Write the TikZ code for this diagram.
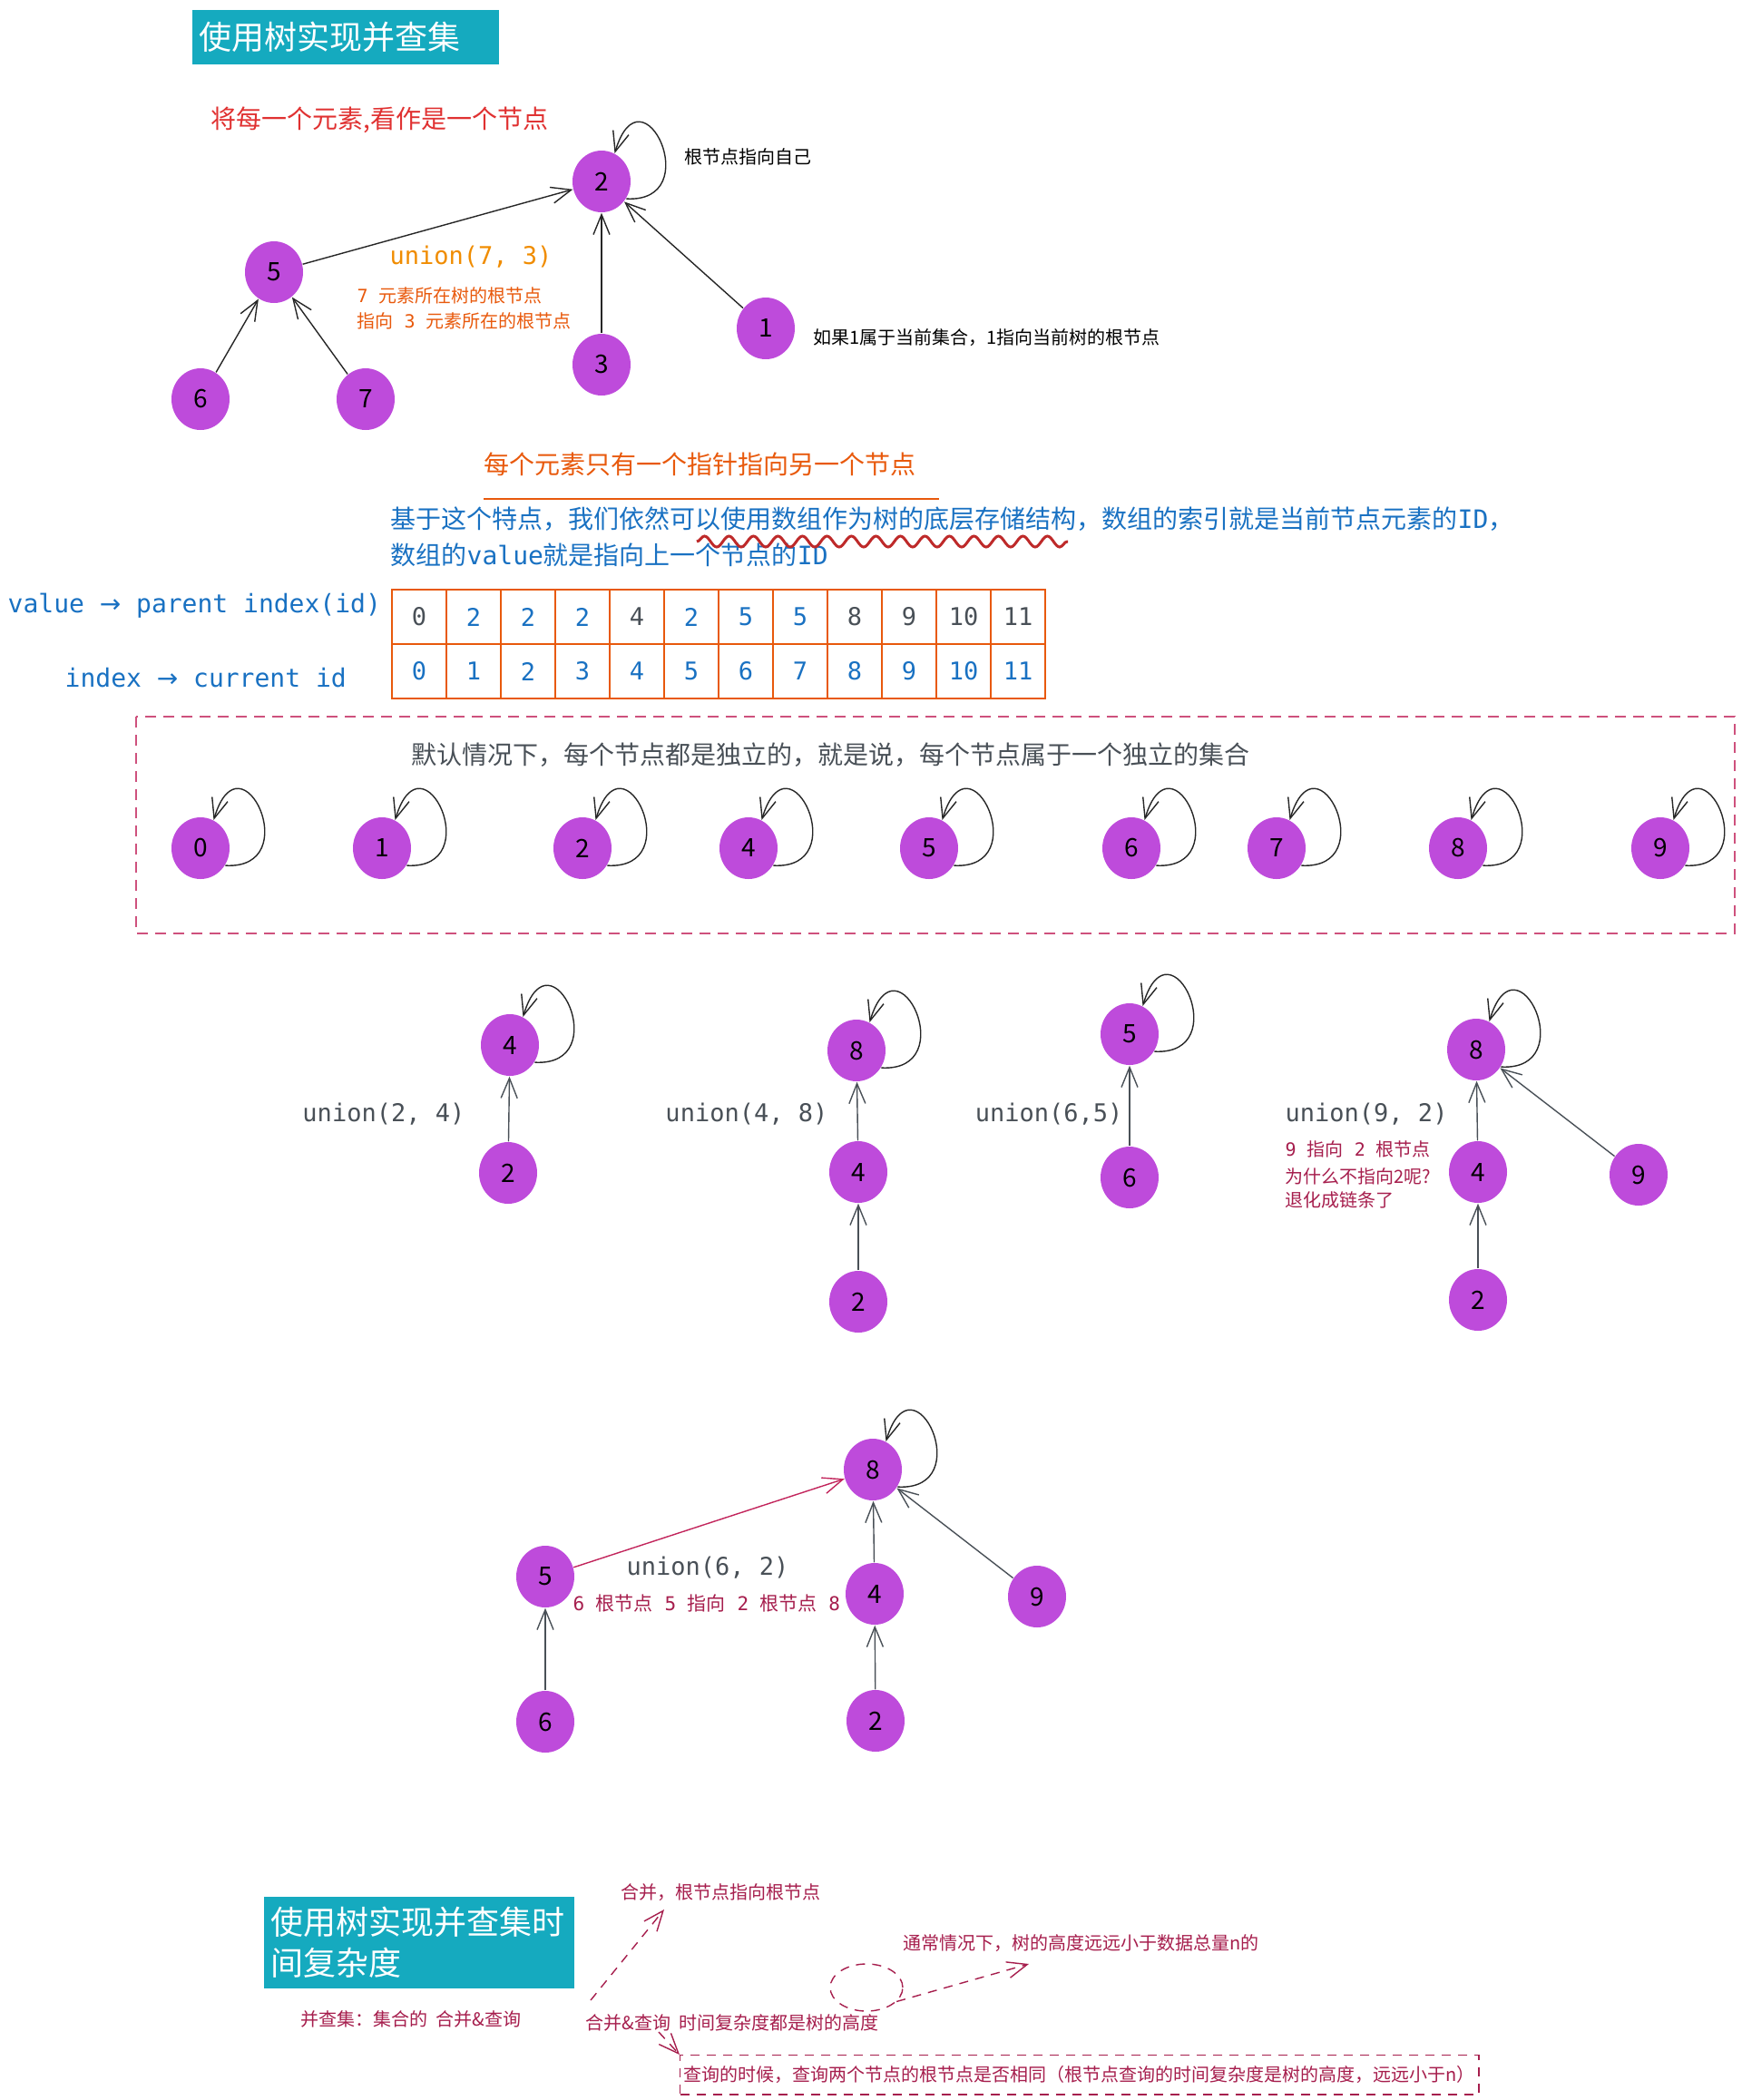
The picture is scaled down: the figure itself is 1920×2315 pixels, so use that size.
\documentclass[tikz,border=0pt]{standalone}
\usepackage{fontspec}
\setmainfont{Noto Sans CJK SC}
\setmonofont{DejaVu Sans Mono}
\usetikzlibrary{shapes.geometric,arrows.meta,decorations.pathmorphing}
\definecolor{tealbox}{HTML}{15AABF}
\definecolor{nodepurple}{HTML}{BE4BDB}
\definecolor{hintred}{HTML}{E03131}
\definecolor{hintorange}{HTML}{F08C00}
\definecolor{noteorange}{HTML}{E8590C}
\definecolor{noteblue}{HTML}{1971C2}
\definecolor{notegray}{HTML}{495057}
\definecolor{notecrimson}{HTML}{A61E4D}
\definecolor{framepink}{HTML}{C2255C}
\begin{document}
\begin{tikzpicture}[x=0.5pt, y=-0.5pt, >={Straight Barb[length=11pt,width=9pt]}, line width=0.7pt,
  elem/.style={ellipse, fill=nodepurple, minimum width=32pt, minimum height=34pt, inner sep=0pt, font=\fontsize{14}{16}\selectfont},
  childlink/.style={->, draw=black!85},
  grayedge/.style={->, draw=notegray},
  loopline/.style={->, draw=black!85},
  note/.style={anchor=west, inner sep=0pt, font=\fontsize{10}{12}\selectfont},
  bigtext/.style={anchor=west, inner sep=0pt, font=\fontsize{14}{20}\selectfont},
  mono/.style={inner sep=0pt, font=\ttfamily\fontsize{13.5}{16}\selectfont},
  tealtitle/.style={fill=tealbox, text=white, anchor=north west, align=left, inner xsep=4pt, font=\fontsize{18}{22.5}\selectfont},
  cell/.style={draw=noteorange, minimum width=30pt, minimum height=30pt, inner sep=0pt, font=\ttfamily\fontsize{13.5}{16}\selectfont},
  wavy/.style={draw=hintred!85!black, line width=1.5pt, decorate, decoration={snake, amplitude=3pt, segment length=13.5pt}},
  hint/.style={->, draw=notecrimson, dash pattern=on 5pt off 4pt}]
\useasboundingbox (0,0) rectangle (1920,2315);
\node[tealtitle, text width=161pt, minimum height=30pt] (title) at (211,10) {使用树实现并查集};
\node[bigtext, text=hintred] (idea) at (232,132) {将每一个元素,看作是一个节点};
\node[elem] (a2) at (663,200) {2};
\node[elem] (a5) at (302,300) {5};
\node[elem] (a6) at (221,440) {6};
\node[elem] (a7) at (403,440) {7};
\node[elem] (a3) at (663,402) {3};
\node[elem] (a1) at (844,362) {1};
\draw[childlink] (a5) -- (a2);
\draw[childlink] (a6) -- (a5);
\draw[childlink] (a7) -- (a5);
\draw[childlink] (a3) -- (a2);
\draw[childlink] (a1) -- (a2);
\draw[loopline] (a2.-35) .. controls +(90,5) and +(30,-100) .. (a2.65);
\node[note] (selfnote) at (754,173) {根节点指向自己};
\node[mono, anchor=west, text=hintorange] (u73) at (429,283) {union(7, 3)};
\node[note, text=noteorange] (u73a) at (393,326) {\texttt{7 }元素所在树的根节点};
\node[note, text=noteorange] (u73b) at (393,354) {指向\texttt{ 3 }元素所在的根节点};
\node[note] (onenote) at (896,372) {如果1属于当前集合，1指向当前树的根节点};
\node[bigtext, text=noteorange] (pointer) at (533,512) {每个元素只有一个指针指向另一个节点};
\draw[noteorange, line width=1pt] (533,550) -- (1035,550);
\node[bigtext, text=noteblue] (arr1) at (430,572) {基于这个特点，我们依然可以使用数组作为树的底层存储结构，数组的索引就是当前节点元素的\texttt{ID}，};
\node[bigtext, text=noteblue] (arr2) at (430,612) {数组的\texttt{value}就是指向上一个节点的\texttt{ID}};
\draw[wavy] (768,597) -- (1177,597);
\node[mono, anchor=west, text=noteblue, font=\ttfamily\fontsize{14}{16}\selectfont] (vlab) at (8,668) {value {\fontspec{DejaVu Sans}→} parent index(id)};
\node[mono, anchor=west, text=noteblue, font=\ttfamily\fontsize{14}{16}\selectfont] (ilab) at (71,747) {index {\fontspec{DejaVu Sans}→} current id};
\foreach \v/\c [count=\i from 0] in {0/notegray,2/noteblue,2/noteblue,2/noteblue,4/notegray,2/noteblue,5/noteblue,5/noteblue,8/notegray,9/notegray,10/notegray,11/notegray} {
  \node[cell, text=\c] (v\i) at (462+60*\i,680) {\v};
  \node[cell, text=noteblue] (x\i) at (462+60*\i,740) {\i};
}
\draw[framepink!80, line width=1pt, dash pattern=on 6pt off 4pt] (150,790) rectangle (1912,1029);
\node[bigtext, text=notegray] (alone) at (453,832) {默认情况下，每个节点都是独立的，就是说，每个节点属于一个独立的集合};
\foreach \k/\x in {0/221,1/421,2/642,4/825,5/1024,6/1247,7/1407,8/1607,9/1830} {
  \node[elem] (r\k) at (\x,935) {\k};
  \draw[loopline] (r\k.-35) .. controls +(90,5) and +(30,-100) .. (r\k.65);
}
\node[elem] (pA4) at (562,1152) {4};
\node[elem] (pA2) at (560,1293) {2};
\draw[grayedge] (pA2) -- (pA4);
\draw[loopline] (pA4.-35) .. controls +(90,5) and +(30,-100) .. (pA4.65);
\node[mono, anchor=east, text=notegray] (u24) at (513,1228) {union(2, 4)};
\node[elem] (pB8) at (944,1158) {8};
\node[elem] (pB4) at (946,1292) {4};
\node[elem] (pB2) at (946,1435) {2};
\draw[grayedge] (pB4) -- (pB8);
\draw[grayedge] (pB2) -- (pB4);
\draw[loopline] (pB8.-35) .. controls +(90,5) and +(30,-100) .. (pB8.65);
\node[mono, anchor=east, text=notegray] (u48) at (913,1228) {union(4, 8)};
\node[elem] (pC5) at (1245,1140) {5};
\node[elem] (pC6) at (1245,1298) {6};
\draw[grayedge] (pC6) -- (pC5);
\draw[loopline] (pC5.-35) .. controls +(90,5) and +(30,-100) .. (pC5.65);
\node[mono, anchor=east, text=notegray] (u65) at (1238,1228) {union(6,5)};
\node[elem] (pD8) at (1627,1157) {8};
\node[elem] (pD4) at (1629,1292) {4};
\node[elem] (pD2) at (1629,1433) {2};
\node[elem] (pD9) at (1806,1295) {9};
\draw[grayedge] (pD4) -- (pD8);
\draw[grayedge] (pD2) -- (pD4);
\draw[grayedge] (pD9) -- (pD8);
\draw[loopline] (pD8.-35) .. controls +(90,5) and +(30,-100) .. (pD8.65);
\node[mono, anchor=west, text=notegray] (u92) at (1416,1228) {union(9, 2)};
\node[note, text=notecrimson] (why1) at (1416,1267) {\texttt{9 }指向\texttt{ 2 }根节点};
\node[note, text=notecrimson] (why2) at (1416,1297) {为什么不指向2呢?};
\node[note, text=notecrimson] (why3) at (1416,1323) {退化成链条了};
\node[elem] (q8) at (962,1620) {8};
\node[elem] (q5) at (601,1738) {5};
\node[elem] (q6) at (601,1898) {6};
\node[elem] (q4) at (964,1757) {4};
\node[elem] (q2) at (965,1897) {2};
\node[elem] (q9) at (1143,1760) {9};
\draw[->, draw=framepink] (q5) -- (q8);
\draw[grayedge] (q6) -- (q5);
\draw[grayedge] (q4) -- (q8);
\draw[grayedge] (q2) -- (q4);
\draw[grayedge] (q9) -- (q8);
\draw[loopline] (q8.-35) .. controls +(90,5) and +(30,-100) .. (q8.65);
\node[mono, text=notegray] (u62) at (780,1728) {union(6, 2)};
\node[note, text=notecrimson, font=\fontsize{10.5}{12}\selectfont] (u62a) at (631,1767) {\texttt{6 }根节点\texttt{ 5 }指向\texttt{ 2 }根节点\texttt{ 8}};
\node[tealtitle, text width=163pt, minimum height=50.5pt, inner ysep=3pt] (title2) at (290,2090) {使用树实现并查集时\\间复杂度};
\node[note, text=notecrimson] (dsu) at (331,2226) {并查集：集合的 \ 合并\&查询};
\node[note, text=notecrimson] (cost) at (645,2230) {合并\&查询 \ 时间复杂度都是树的高度};
\node[note, text=notecrimson] (merge) at (684,2086) {合并，根节点指向根节点};
\node[note, text=notecrimson] (usual) at (995,2142) {通常情况下，树的高度远远小于数据总量n的};
\node[note, text=notecrimson, draw=notecrimson, dash pattern=on 5pt off 4pt, anchor=north west, inner xsep=2pt, inner ysep=6pt] (query) at (749,2265) {查询的时候，查询两个节点的根节点是否相同（根节点查询的时间复杂度是树的高度，远远小于n）};
\node[ellipse, draw=notecrimson, dash pattern=on 5pt off 4pt, minimum width=40pt, minimum height=26pt] (ring) at (955,2191) {};
\coordinate (k1) at (651,2205);
\coordinate (k2) at (732,2105);
\coordinate (k3) at (1134,2165);
\coordinate (k4) at (726,2240);
\draw[hint] (k1) -- (k2);
\draw[hint] (ring.-25) -- (k3);
\draw[hint] (k4) -- (query.north west);
\end{tikzpicture}
\end{document}
